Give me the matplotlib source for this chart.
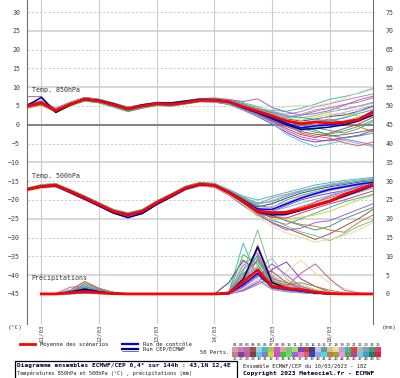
import numpy as np
import matplotlib
matplotlib.use("Agg")
import matplotlib.pyplot as plt
from matplotlib.patches import Rectangle
from matplotlib.colors import to_rgb

nan = np.nan

# forecast hours, 6h steps from 10/03 18Z
hours = list(range(0, 145, 6))
day_ticks = [6, 30, 54, 78, 102, 126]
day_labels = ["11/03", "12/03", "13/03", "14/03", "15/03", "16/03"]

# ensemble mean / control / operational run
t850_mean = [5.0, 5.8, 3.8, 5.5, 6.8, 6.3, 5.3, 4.2, 5.0, 5.6, 5.4, 5.9, 6.5, 6.5, 6.1, 4.8, 3.6, 2.4, 1.0, 0.3, 0.7, 0.5, 0.7, 1.4, 3.5]
t850_ctrl = [5.0, 5.9, 3.7, 5.4, 6.9, 6.4, 5.4, 4.1, 5.1, 5.7, 5.5, 6.1, 6.7, 6.6, 6.0, 4.5, 3.4, 2.0, 0.4, -0.8, -0.3, 0.0, 0.5, 1.3, 3.2]
t850_oper = [5.1, 7.3, 3.3, 5.3, 6.9, 6.5, 5.6, 4.3, 5.3, 5.8, 5.8, 6.3, 6.7, 6.7, 6.2, 4.6, 3.2, 1.6, 0.0, -1.2, -1.0, -0.6, 0.0, 1.0, 2.6]

t500_mean = [-17.2, -16.4, -16.1, -17.7, -19.4, -21.2, -23.0, -23.9, -23.0, -20.7, -18.8, -16.8, -15.8, -16.1, -18.0, -20.3, -23.0, -23.4, -23.3, -22.5, -21.4, -20.3, -18.6, -17.2, -15.9]
t500_ctrl = [-17.1, -16.3, -16.0, -17.6, -19.3, -21.2, -23.1, -24.1, -23.2, -20.9, -18.9, -16.8, -15.8, -16.0, -17.8, -20.0, -22.4, -22.5, -21.0, -19.5, -18.3, -17.2, -16.5, -15.8, -15.3]
t500_oper = [-17.3, -16.5, -16.3, -18.0, -19.8, -21.6, -23.5, -24.7, -23.6, -21.2, -19.2, -17.1, -16.0, -16.2, -18.1, -20.6, -23.2, -24.0, -23.8, -22.8, -21.6, -20.4, -19.0, -17.6, -16.2]

pr_mean = [nan, 0, 0, 0.3, 0.6, 0.3, 0.1, 0, 0, 0, 0, 0, 0, 0, 0.2, 3.3, 6.4, 2.0, 1.5, 1.1, 0.5, 0.1, 0, 0, 0]
pr_ctrl = [nan, 0, 0, 0.3, 0.9, 0.5, 0.1, 0, 0, 0, 0, 0, 0, 0, 0.1, 2.5, 5.5, 1.8, 1.2, 0.8, 0.3, 0, 0, 0, 0]
pr_oper = [nan, 0, 0, 0.5, 1.3, 0.6, 0.1, 0, 0, 0, 0, 0, 0, 0, 0.2, 4.0, 12.5, 3.0, 1.5, 0.8, 0.3, 0, 0, 0, 0]

# perturbed members (subset)
t850_members = [
    [4.6, 5.5, 3.5, 5.2, 6.5, 6.0, 5.0, 4.0, 4.8, 5.5, 5.3, 5.8, 6.4, 6.7, 6.3, 5.2, 4.2, 3.5, 2.8, 3.5, 4.8, 5.6, 6.5, 7.4, 8.2],
    [5.3, 6.2, 4.2, 5.8, 7.0, 6.6, 5.5, 4.5, 5.2, 5.8, 5.6, 6.0, 6.6, 6.4, 5.8, 4.4, 3.0, 1.2, -0.5, -1.8, -2.5, -3.0, -2.6, -2.0, -1.2],
    [4.8, 5.9, 3.9, 5.4, 6.9, 6.2, 5.2, 4.1, 4.9, 5.7, 5.5, 6.1, 6.8, 7.0, 6.6, 5.6, 4.6, 3.8, 3.6, 4.4, 5.5, 6.8, 7.5, 8.4, 9.6],
    [5.1, 6.0, 3.6, 5.6, 6.6, 6.1, 5.1, 3.8, 4.6, 5.4, 5.2, 5.7, 6.2, 6.2, 5.6, 4.1, 2.6, 0.8, -1.5, -3.2, -4.0, -4.3, -3.8, -4.5, -5.4],
    [5.0, 5.6, 4.0, 5.7, 7.1, 6.5, 5.6, 4.4, 5.1, 5.9, 5.7, 6.3, 6.9, 7.2, 6.8, 5.9, 4.9, 3.5, 2.2, 1.8, 2.5, 3.4, 4.2, 5.0, 6.0],
    [4.7, 5.4, 3.4, 5.1, 6.4, 5.9, 4.8, 3.6, 4.5, 5.2, 5.0, 5.6, 6.2, 6.0, 5.4, 3.9, 2.2, 0.2, -2.0, -3.8, -4.6, -4.0, -3.4, -2.8, -1.5],
    [5.4, 6.4, 4.4, 6.0, 7.3, 6.8, 5.8, 4.7, 5.4, 6.0, 5.9, 6.4, 7.0, 6.9, 6.5, 5.5, 4.4, 3.0, 1.6, 1.0, 1.5, 2.2, 2.6, 3.6, 5.0],
    [5.2, 5.7, 3.7, 5.3, 6.7, 6.4, 5.4, 4.3, 5.0, 5.6, 5.4, 5.9, 6.5, 6.3, 5.9, 4.6, 3.2, 1.8, 0.2, -1.0, -0.8, -1.5, -2.2, -1.0, 0.8],
    [4.9, 5.8, 3.8, 5.5, 6.8, 6.3, 5.3, 4.2, 5.0, 5.6, 5.5, 6.0, 6.6, 6.8, 6.4, 5.4, 4.5, 4.0, 4.8, 5.2, 5.0, 5.8, 7.0, 8.6, 9.9],
    [4.5, 5.3, 3.3, 5.0, 6.3, 5.8, 4.7, 3.5, 4.4, 5.1, 5.0, 5.5, 6.1, 6.1, 5.6, 4.2, 2.9, 1.4, -0.2, -1.5, -1.0, 0.2, 1.0, 2.0, 3.4],
    [5.5, 6.6, 4.3, 5.9, 7.2, 6.7, 5.7, 4.6, 5.3, 5.9, 5.8, 6.2, 6.8, 6.6, 6.0, 4.7, 3.4, 2.0, 0.4, -0.6, 0.0, 1.2, 2.0, 3.5, 4.6],
    [5.0, 6.0, 3.9, 5.5, 6.9, 6.4, 5.3, 4.0, 4.7, 5.4, 5.3, 5.8, 6.4, 6.4, 6.0, 4.8, 3.5, 2.2, 0.8, 0.1, -1.5, -2.8, -3.5, -3.0, -2.2],
    [4.4, 5.2, 3.6, 5.3, 6.6, 6.2, 5.2, 4.1, 4.9, 5.5, 5.4, 5.9, 6.5, 6.6, 6.2, 5.0, 3.9, 2.8, 1.9, 2.5, 3.6, 4.5, 5.4, 6.0, 7.2],
    [7.5, 7.5, 3.2, 5.2, 6.8, 6.6, 5.6, 4.4, 5.3, 5.7, 5.8, 6.2, 6.6, 6.6, 6.2, 4.9, 3.6, 2.0, 0.5, -0.8, -0.3, 0.0, 0.5, 1.3, 3.2],
    [4.8, 5.5, 3.6, 5.4, 6.7, 6.0, 5.0, 3.9, 4.7, 5.4, 5.2, 5.7, 6.3, 6.1, 5.5, 4.0, 2.4, 0.5, -2.5, -4.4, -5.8, -5.0, -4.2, -5.0, -5.8],
    [5.1, 5.9, 4.1, 5.8, 7.0, 6.5, 5.5, 4.4, 5.2, 5.8, 5.6, 6.1, 6.7, 6.7, 6.3, 5.1, 4.0, 2.9, 1.8, 1.2, 2.0, 2.8, 3.0, 2.4, 2.0],
    [4.6, 5.6, 3.4, 5.1, 6.5, 6.1, 5.1, 3.9, 4.8, 5.4, 5.3, 5.7, 6.3, 6.3, 5.7, 4.5, 3.1, 1.6, 0.0, -0.9, -2.0, -2.5, -1.6, -0.4, 1.2],
    [5.3, 6.1, 4.0, 5.6, 6.9, 6.3, 5.4, 4.3, 5.1, 5.7, 5.6, 6.0, 6.6, 6.9, 6.7, 6.2, 6.9, 4.6, 3.4, 2.6, 3.0, 3.8, 5.2, 6.6, 7.6],
    [4.9, 5.8, 3.5, 5.3, 6.6, 6.2, 5.2, 4.0, 4.8, 5.5, 5.3, 5.8, 6.4, 6.5, 6.0, 4.6, 3.3, 1.9, 0.3, -2.2, -3.0, -3.6, -4.8, -5.6, -4.6],
    [5.2, 6.3, 4.1, 5.7, 7.0, 6.6, 5.6, 4.5, 5.2, 5.8, 5.7, 6.2, 6.8, 6.8, 6.3, 5.2, 4.1, 3.0, 2.0, 2.8, 4.0, 4.6, 4.0, 4.9, 5.8],
    [4.7, 5.4, 3.7, 5.4, 6.8, 6.4, 5.5, 4.3, 5.0, 5.5, 5.4, 5.9, 6.5, 6.4, 5.9, 4.6, 3.4, 2.3, 1.2, 0.6, 0.9, 1.5, 0.6, -0.5, -1.8],
    [5.0, 6.1, 3.9, 5.6, 6.9, 6.3, 5.3, 4.2, 5.1, 5.7, 5.5, 6.0, 6.6, 6.5, 6.1, 4.7, 3.7, 2.5, 1.1, 0.4, 1.2, 2.4, 3.3, 4.2, 5.2],
    [5.4, 6.2, 3.8, 5.5, 6.7, 6.2, 5.2, 4.1, 4.9, 5.6, 5.4, 5.9, 6.5, 6.4, 5.9, 4.3, 2.8, 1.0, -1.0, -2.6, -3.4, -2.2, -1.0, 0.2, 2.0],
    [4.8, 5.7, 3.9, 5.6, 6.9, 6.5, 5.4, 4.3, 5.0, 5.6, 5.4, 6.0, 6.6, 6.7, 6.4, 5.3, 4.3, 3.2, 2.4, 2.0, 1.4, 1.0, 1.8, 3.0, 4.0],
]

t500_members = [
    [-17.0, -16.0, -15.7, -17.4, -19.2, -21.0, -22.8, -23.6, -22.7, -20.4, -18.5, -16.5, -15.5, -15.8, -17.5, -19.5, -21.0, -19.5, -18.5, -17.5, -16.8, -16.0, -15.5, -15.0, -14.5],
    [-17.4, -16.6, -16.3, -18.0, -19.7, -21.5, -23.3, -24.2, -23.3, -21.0, -19.0, -17.1, -16.1, -16.4, -18.4, -21.0, -24.0, -26.0, -27.5, -29.0, -30.5, -29.0, -27.0, -25.0, -22.5],
    [-17.1, -16.2, -15.9, -17.5, -19.1, -20.8, -22.6, -23.5, -22.6, -20.3, -18.4, -16.4, -15.4, -15.6, -17.2, -19.0, -20.0, -19.0, -18.0, -17.0, -16.0, -15.4, -14.8, -14.4, -14.0],
    [-17.3, -16.5, -16.2, -17.9, -19.6, -21.4, -23.2, -24.1, -23.2, -20.9, -19.0, -17.0, -16.0, -16.3, -18.3, -20.8, -23.5, -24.5, -24.0, -22.5, -20.5, -19.0, -17.8, -16.6, -15.6],
    [-17.0, -16.3, -16.0, -17.6, -19.3, -21.1, -22.9, -23.8, -22.9, -20.6, -18.7, -16.7, -15.7, -16.0, -17.9, -20.0, -22.5, -25.0, -27.0, -28.5, -29.5, -30.8, -29.0, -27.0, -25.5],
    [-17.5, -16.8, -16.5, -18.2, -19.9, -21.7, -23.5, -24.4, -23.5, -21.2, -19.3, -17.3, -16.3, -16.6, -18.7, -21.5, -24.2, -23.0, -21.5, -20.0, -19.0, -18.2, -17.5, -16.4, -15.2],
    [-16.9, -16.1, -15.8, -17.3, -19.0, -20.9, -22.7, -23.6, -22.8, -20.5, -18.6, -16.6, -15.6, -15.9, -17.7, -19.8, -21.8, -21.0, -19.5, -18.2, -17.3, -16.5, -15.9, -15.3, -14.8],
    [-17.2, -16.4, -16.1, -17.8, -19.5, -21.3, -23.1, -24.0, -23.1, -20.8, -18.9, -16.9, -15.9, -16.2, -18.1, -20.6, -23.4, -25.5, -26.5, -25.0, -23.5, -22.0, -20.5, -19.5, -18.5],
    [-17.6, -16.9, -16.4, -18.1, -19.8, -21.6, -23.4, -24.3, -23.4, -21.1, -19.2, -17.2, -16.2, -16.5, -18.5, -21.2, -24.5, -27.0, -28.8, -30.0, -31.2, -30.5, -29.5, -28.0, -26.0],
    [-16.8, -15.9, -15.6, -17.2, -18.9, -20.7, -22.5, -23.4, -22.5, -20.2, -18.3, -16.3, -15.3, -15.6, -17.4, -19.3, -20.8, -20.5, -19.0, -17.8, -16.8, -16.2, -15.6, -15.0, -14.6],
    [-17.3, -16.5, -16.2, -17.7, -19.4, -21.2, -23.0, -23.9, -23.0, -20.7, -18.8, -16.8, -15.8, -16.1, -18.0, -20.4, -22.8, -22.5, -21.0, -19.5, -18.6, -17.6, -16.8, -16.0, -15.4],
    [-17.1, -16.4, -16.0, -17.6, -19.3, -21.1, -22.9, -23.8, -22.9, -20.6, -18.7, -16.7, -15.7, -16.0, -17.8, -20.0, -22.0, -24.0, -25.6, -26.8, -28.0, -27.0, -25.0, -23.5, -22.0],
    [-17.4, -16.7, -16.4, -18.0, -19.7, -21.5, -23.3, -24.2, -23.3, -21.0, -19.1, -17.1, -16.1, -16.4, -18.3, -20.8, -23.8, -24.0, -23.0, -22.0, -21.0, -20.0, -19.0, -18.0, -16.8],
    [-17.2, -16.5, -16.2, -17.9, -19.5, -21.4, -23.4, -24.6, -23.6, -21.1, -19.1, -17.1, -16.0, -16.3, -18.2, -20.5, -22.8, -22.6, -21.1, -19.6, -18.4, -17.3, -16.6, -15.9, -15.4],
    [-17.0, -16.1, -15.9, -17.5, -19.2, -21.0, -22.8, -23.7, -22.8, -20.5, -18.6, -16.6, -15.6, -15.9, -17.8, -20.1, -22.4, -23.0, -22.0, -20.8, -19.8, -18.8, -17.4, -16.2, -15.0],
    [-17.5, -16.7, -16.3, -17.9, -19.6, -21.4, -23.2, -24.1, -23.2, -20.9, -19.0, -17.0, -16.0, -16.3, -18.4, -21.0, -24.0, -25.2, -25.0, -24.6, -24.0, -23.0, -21.5, -20.0, -18.8],
    [-16.9, -16.2, -15.9, -17.4, -19.1, -20.9, -22.7, -23.6, -22.7, -20.4, -18.5, -16.5, -15.5, -15.8, -17.6, -19.6, -21.5, -22.0, -20.0, -18.8, -17.8, -17.0, -16.2, -15.5, -14.9],
    [-17.3, -16.6, -16.3, -17.8, -19.5, -21.3, -23.1, -24.0, -23.1, -20.8, -18.9, -16.9, -15.9, -16.2, -18.2, -20.8, -23.6, -26.2, -28.0, -27.5, -26.0, -25.5, -24.0, -22.5, -21.0],
    [-17.2, -16.3, -16.0, -17.6, -19.3, -21.1, -22.9, -23.8, -22.9, -20.6, -18.7, -16.7, -15.7, -16.0, -17.9, -20.2, -22.6, -23.2, -23.0, -21.8, -20.6, -19.4, -18.2, -17.0, -16.0],
    [-17.1, -16.2, -15.8, -17.4, -19.1, -20.9, -22.7, -23.6, -22.7, -20.4, -18.5, -16.5, -15.5, -15.8, -17.3, -19.2, -21.2, -20.2, -18.8, -17.6, -16.6, -15.8, -15.2, -14.7, -14.2],
    [-17.4, -16.6, -16.3, -17.9, -19.6, -21.4, -23.2, -24.1, -23.2, -20.9, -19.0, -17.0, -16.0, -16.3, -18.2, -20.6, -23.2, -24.2, -25.5, -26.5, -27.0, -28.0, -28.6, -26.0, -24.0],
    [-17.0, -16.3, -16.0, -17.6, -19.3, -21.1, -22.9, -23.8, -22.9, -20.6, -18.7, -16.7, -15.7, -16.0, -17.8, -20.0, -22.2, -21.8, -20.6, -19.2, -18.0, -17.0, -16.2, -15.6, -15.1],
    [-17.3, -16.4, -16.1, -17.7, -19.4, -21.2, -23.0, -23.9, -23.0, -20.7, -18.8, -16.8, -15.8, -16.1, -18.1, -20.7, -23.4, -24.6, -24.8, -23.5, -22.2, -21.0, -20.0, -18.8, -17.6],
    [-17.1, -16.5, -16.2, -17.8, -19.5, -21.3, -23.1, -24.0, -23.1, -20.8, -18.9, -16.9, -15.9, -16.2, -18.1, -20.4, -22.9, -23.6, -23.6, -22.8, -21.6, -20.6, -19.2, -17.8, -16.4],
]

pr_members = [
    [nan, 0, 0, 0.5, 1.2, 0.6, 0.2, 0, 0, 0, 0, 0, 0, 0, 0.3, 4.0, 7.5, 2.5, 1.5, 1.0, 0.5, 0.1, 0, 0, 0],
    [nan, 0, 0, 1.0, 3.3, 1.5, 0.4, 0, 0, 0, 0, 0, 0, 0, 0.0, 2.0, 5.0, 1.5, 0.8, 0.4, 0.2, 0, 0, 0, 0],
    [nan, 0, 0, 0.2, 0.8, 0.3, 0, 0, 0, 0, 0, 0, 0, 0, 0.5, 13.5, 4.0, 1.2, 0.6, 0.3, 0, 0, 0, 0, 0],
    [nan, 0, 0.1, 1.8, 2.0, 1.0, 0.3, 0, 0, 0, 0, 0, 0, 0, 0.1, 3.5, 10.5, 3.0, 2.0, 1.5, 0.6, 0.2, 0, 0, 0],
    [nan, 0, 0, 0.3, 0.5, 0.2, 0, 0, 0, 0, 0, 0, 0, 0, 0.2, 6.0, 17.0, 5.0, 2.5, 1.4, 0.8, 0.3, 0, 0, 0],
    [nan, 0, 0, 0.6, 1.5, 0.8, 0.2, 0, 0, 0, 0, 0, 0, 0, 0.0, 1.0, 3.0, 6.5, 8.5, 4.0, 2.0, 0.5, 0, 0, 0],
    [nan, 0, 0, 0, 0.2, 0.1, 0, 0, 0, 0, 0, 0, 0, 0, 3.0, 9.0, 6.0, 2.0, 1.0, 0.5, 0.2, 0, 0, 0, 0],
    [nan, 0, 0, 0.8, 2.5, 1.2, 0.5, 0, 0, 0, 0, 0, 0, 0, 0.1, 2.5, 12.0, 4.0, 3.0, 2.0, 1.0, 0.3, 0, 0, 0],
    [nan, 0, 0, 0.4, 1.0, 0.5, 0.1, 0, 0, 0, 0, 0, 0, 0, 0.0, 1.5, 4.0, 2.0, 6.0, 9.0, 5.5, 3.0, 1.5, 0.4, 0],
    [nan, 0, 0, 0.2, 0.6, 0.2, 0, 0, 0, 0, 0, 0, 0, 0, 0.4, 5.5, 8.5, 3.5, 1.8, 1.0, 0.4, 0, 0, 0, 0],
    [nan, 0, 0, 1.2, 1.8, 0.9, 0.3, 0, 0, 0, 0, 0, 0, 0, 0.2, 3.0, 6.5, 9.5, 4.0, 1.5, 0.5, 0.1, 0, 0, 0],
    [nan, 0, 0, 0.1, 0.4, 0.1, 0, 0, 0, 0, 0, 0, 0, 0, 0.0, 2.2, 9.5, 3.2, 1.2, 0.6, 0.2, 0, 0, 0, 0],
    [nan, 0, 0, 0.5, 1.4, 0.7, 0.1, 0, 0, 0, 0, 0, 0, 0, 0.6, 7.5, 11.0, 2.8, 1.4, 0.8, 0.3, 0, 0, 0, 0],
    [nan, 0, 0, 0.3, 0.9, 0.4, 0, 0, 0, 0, 0, 0, 0, 0, 0.0, 0.8, 2.5, 4.5, 2.0, 5.5, 8.0, 4.0, 1.0, 0.2, 0],
    [nan, 0, 0, 0.7, 2.2, 1.1, 0.3, 0, 0, 0, 0, 0, 0, 0, 0.1, 4.5, 7.0, 1.8, 0.9, 0.5, 0.2, 0, 0, 0, 0],
    [nan, 0, 0, 0.2, 0.7, 0.3, 0, 0, 0, 0, 0, 0, 0, 0, 0.2, 3.2, 5.8, 2.2, 3.5, 2.5, 1.2, 0.4, 0, 0, 0],
    [nan, 0, 0, 0.9, 1.6, 0.6, 0.2, 0, 0, 0, 0, 0, 0, 0, 0.3, 10.5, 7.8, 2.6, 1.2, 0.7, 0.3, 0, 0, 0, 0],
    [nan, 0, 0, 0.4, 1.1, 0.5, 0.1, 0, 0, 0, 0, 0, 0, 0, 0.0, 1.8, 4.6, 8.0, 5.0, 2.0, 0.6, 0.2, 0, 0, 0],
    [nan, 0, 0, 0.6, 1.3, 0.8, 0.2, 0, 0, 0, 0, 0, 0, 0, 0.1, 2.8, 13.0, 3.8, 1.6, 0.9, 0.4, 0.1, 0, 0, 0],
    [nan, 0, 0, 0.1, 0.3, 0.1, 0, 0, 0, 0, 0, 0, 0, 0, 0.0, 1.2, 3.5, 1.2, 0.6, 0.3, 0.1, 0, 0, 0, 0],
    [nan, 0, 0, 0.5, 2.8, 1.4, 0.4, 0, 0, 0, 0, 0, 0, 0, 0.2, 5.0, 9.0, 3.3, 2.4, 3.0, 2.0, 1.0, 0.3, 0, 0],
    [nan, 0, 0, 0.3, 0.8, 0.4, 0.1, 0, 0, 0, 0, 0, 0, 0, 0.1, 8.5, 6.2, 2.4, 1.1, 0.6, 0.2, 0, 0, 0, 0],
    [nan, 0, 0, 0.2, 0.5, 0.2, 0, 0, 0, 0, 0, 0, 0, 0, 0.0, 2.4, 5.2, 6.0, 3.0, 1.5, 0.5, 0.1, 0, 0, 0],
    [nan, 0, 0, 0.8, 1.9, 1.0, 0.3, 0, 0, 0, 0, 0, 0, 0, 0.4, 6.5, 10.0, 2.2, 1.0, 0.5, 0.2, 0, 0, 0, 0],
]

# member colours (legend order 01..50)
member_colors = [
    "#d4a0a0", "#c080c0", "#c07090", "#a05050", "#a0d0e0", "#40c0c0", "#c0c040", "#c060c0", "#e0a0a0", "#80c080",
    "#a0e060", "#8040c0", "#c04040", "#404080", "#c0c0e0", "#60a0a0", "#e0c080", "#e0e0a0", "#c0a0e0", "#40c080",
    "#e04040", "#a0c0c0", "#80a0c0", "#40a080", "#e04060",
    "#c08080", "#8040a0", "#c060a0", "#804040", "#60c0e0", "#8080c0", "#c0e040", "#e040e0", "#40c040", "#60e060",
    "#a060e0", "#e080c0", "#e06060", "#4040c0", "#a0a0e0", "#40e0e0", "#c08040", "#a0a040", "#e0a0e0", "#60a060",
    "#c04080", "#80c0e0", "#40a0c0", "#208060", "#e02040",
]

W, H = 400, 378
MONO = "DejaVu Sans Mono"
GRAY = "#404040"


def fx(px):
    return px / W


def fy(py):
    return 1 - py / H


fig = plt.figure(figsize=(W / 100, H / 100), dpi=100)
fig.patch.set_facecolor("white")
ax = fig.add_axes([fx(27), fy(324), fx(373) - fx(27), fy(0) - fy(324)])
ax.set_xlim(0, 144)
ax.set_ylim(-53.0, 33.2)

# grid
for v in range(-40, 31, 5):
    if v in (25, 10, -10, -25, -40):
        ax.axhline(v, color="#d4d4d4", lw=1.3, zorder=0)
    else:
        ax.axhline(v, color="#c8c8c8", lw=0.6, ls=(0, (3, 2)), zorder=0)
for t in day_ticks:
    ax.axvline(t, color="#cccccc", lw=0.8, zorder=0)
ax.axhline(0, color="#808080", lw=1.4, zorder=1)

# temperature members
for k, m in enumerate(t850_members):
    ax.plot(hours, m, color=member_colors[(k * 2 + 1) % 50], lw=0.7, zorder=2)
for k, m in enumerate(t500_members):
    ax.plot(hours, m, color=member_colors[(k * 2 + 1) % 50], lw=0.7, zorder=2)

ax.plot(hours, t850_oper, color="#000080", lw=1.1, zorder=3)
ax.plot(hours, t500_oper, color="#000080", lw=1.1, zorder=3)
ax.plot(hours, t850_ctrl, color="#0000ff", lw=1.1, zorder=4)
ax.plot(hours, t500_ctrl, color="#0000ff", lw=1.1, zorder=4)
ax.plot(hours, t850_mean, color="#ff0000", lw=2.0, zorder=5)
ax.plot(hours, t500_mean, color="#ff0000", lw=2.0, zorder=5)

# precipitation on the right scale
ax2 = ax.twinx()
ax2.set_ylim(-53.0 + 45, 33.2 + 45)
for k, m in enumerate(pr_members):
    ax2.plot(hours, m, color=member_colors[(k * 2 + 1) % 50], lw=0.7, zorder=2)
ax2.plot(hours, pr_oper, color="#000080", lw=1.1, zorder=3)
ax2.plot(hours, pr_ctrl, color="#0000ff", lw=1.1, zorder=4)
ax2.plot(hours, pr_mean, color="#ff0000", lw=2.0, zorder=5)

# axes styling
for a in (ax, ax2):
    for s in ("top", "bottom"):
        a.spines[s].set_visible(False)
ax.spines["right"].set_visible(False)
ax2.spines["left"].set_visible(False)
ax.spines["left"].set_color("#707070")
ax2.spines["right"].set_color("#707070")

ax.set_yticks(range(-45, 31, 5))
ax.tick_params(axis="y", length=0, pad=5, labelsize=4.8, labelcolor=GRAY)
ax2.set_yticks(range(0, 76, 5))
ax2.tick_params(axis="y", length=0, pad=9, labelsize=4.8, labelcolor=GRAY)
for lab in ax.get_yticklabels() + ax2.get_yticklabels():
    lab.set_fontfamily(MONO)

ax.set_xticks(day_ticks)
ax.set_xticklabels(day_labels, rotation=90, fontsize=4.2, fontfamily=MONO, color=GRAY, va="top")
ax.tick_params(axis="x", length=0, pad=0.5)

ax.text(2.0, 9.3, "Temp. 850hPa", fontsize=4.8, fontfamily=MONO, color="#333333", va="center")
ax.text(2.0, -13.6, "Temp. 500hPa", fontsize=4.8, fontfamily=MONO, color="#333333", va="center")
ax.text(2.0, -40.6, "Précipitations", fontsize=4.8, fontfamily=MONO, color="#333333", va="center")

fig.text(fx(15), fy(327), "(°C)", fontsize=4.5, fontfamily=MONO, color=GRAY, ha="center", va="center")
fig.text(fx(389), fy(327), "(mm)", fontsize=4.5, fontfamily=MONO, color=GRAY, ha="center", va="center")

# legend
leg = fig.add_axes([0, 0, 1, 1], facecolor="none")
leg.set_xlim(0, W)
leg.set_ylim(H, 0)
leg.axis("off")
leg.plot([20, 35], [344, 344], color="#ff0000", lw=2.0)
leg.plot([122, 138], [344, 344], color="#0000ff", lw=1.6)
leg.plot([122, 138], [349, 349], color="#000080", lw=1.6)
leg.plot([122, 138], [350.5, 350.5], color="#3030c0", lw=0.5)
leg.text(40, 344, "Moyenne des scénarios", fontsize=4.0, fontfamily=MONO, color="#222222", va="center")
leg.text(143, 344, "Run de contrôle", fontsize=4.0, fontfamily=MONO, color="#222222", va="center")
leg.text(143, 349, "Run CEP/ECMWF", fontsize=4.0, fontfamily=MONO, color="#222222", va="center")
leg.text(200, 352, "50 Perts.", fontsize=4.0, fontfamily=MONO, color="#222222", va="center")

# member swatches
sw = np.array([[to_rgb(c) for c in member_colors[:25]], [to_rgb(c) for c in member_colors[25:]]])
leg.imshow(sw, extent=(232, 381, 357, 347), aspect="auto", interpolation="nearest", zorder=1)
cw = (381 - 232) / 25
for i in range(25):
    cx = 232 + cw * (i + 0.5)
    leg.text(cx, 344.5, "%02d" % (i + 1), fontsize=2.9, fontfamily=MONO, color="#222222", ha="center", va="center")
    leg.text(cx, 359.5, "%02d" % (i + 26), fontsize=2.9, fontfamily=MONO, color="#222222", ha="center", va="center")
leg.set_xlim(0, W)
leg.set_ylim(H, 0)

# title box
leg.add_patch(Rectangle((15, 361), 222, 20, fill=False, ec="#000000", lw=0.9))
leg.text(17, 365.5, "Diagramme ensembles ECMWF/CEP 0,4° sur 144h : 43,1N 12,4E", fontsize=4.4,
         fontfamily=MONO, fontweight="bold", color="#000033", va="center")
leg.text(17, 373.5, "Températures 850hPa et 500hPa (°C) , précipitations (mm)", fontsize=3.8,
         fontfamily=MONO, color="#222222", va="center")
leg.text(243, 365.5, "Ensemble ECMWF/CEP du 10/03/2023 - 18Z", fontsize=3.9, fontfamily=MONO,
         color="#222222", va="center")
leg.text(243, 373.5, "Copyright 2023 Meteociel.fr - ECMWF", fontsize=4.5, fontfamily=MONO,
         fontweight="bold", color="#000033", va="center")

fig.savefig("out.png", dpi=100, facecolor="white")
